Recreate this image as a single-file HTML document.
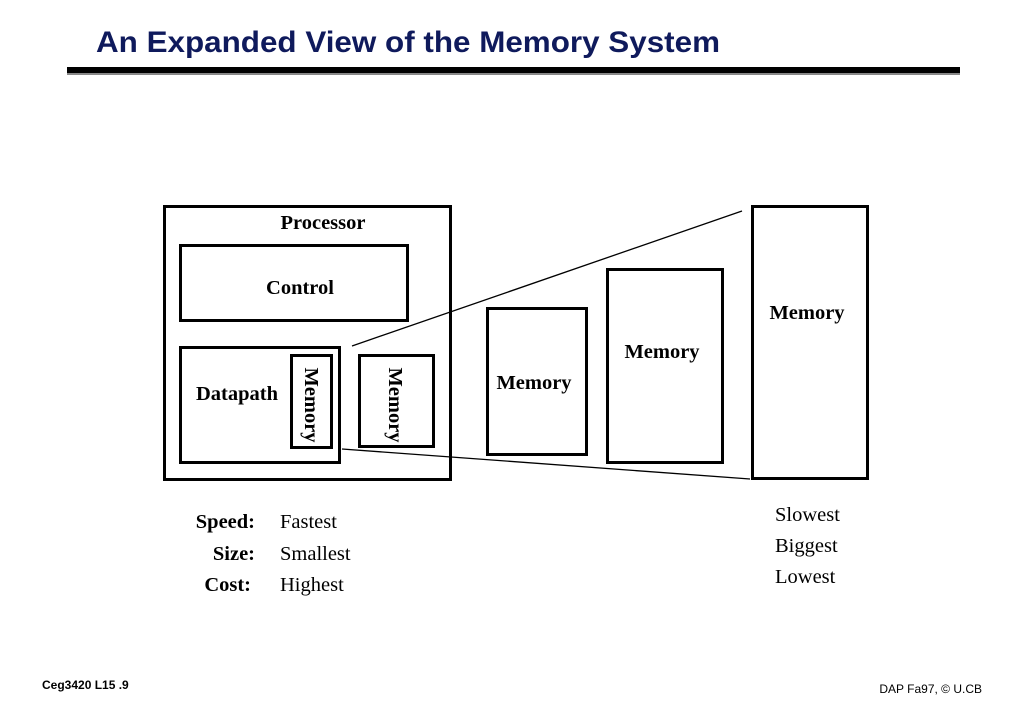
<!DOCTYPE html>
<html><head><meta charset="utf-8"><style>
html,body{margin:0;padding:0;background:#fff;}
svg{display:block;}
.t{font-family:"Liberation Serif",serif;font-size:20.5px;fill:#000;}
.b{font-weight:bold;}
</style></head><body>
<svg width="1024" height="709" viewBox="0 0 1024 709" xmlns="http://www.w3.org/2000/svg">
<text x="96" y="52" font-family="Liberation Sans,sans-serif" font-weight="bold" font-size="30" fill="#0f1a5c" textLength="624" lengthAdjust="spacingAndGlyphs">An Expanded View of the Memory System</text>
<rect x="67" y="67" width="893" height="6" fill="#000"/>
<rect x="67" y="73" width="893" height="2" fill="#888"/>
<g fill="none" stroke="#000" stroke-width="3">
<rect x="164.5" y="206.5" width="286" height="273"/>
<rect x="180.5" y="245.5" width="227" height="75"/>
<rect x="180.5" y="347.5" width="159" height="115"/>
<rect x="291.5" y="355.5" width="40" height="92"/>
<rect x="359.5" y="355.5" width="74" height="91"/>
<rect x="487.5" y="308.5" width="99" height="146"/>
<rect x="607.5" y="269.5" width="115" height="193"/>
<rect x="752.5" y="206.5" width="115" height="272"/>
</g>
<line x1="352" y1="346" x2="742" y2="211" stroke="#000" stroke-width="1.3"/>
<line x1="342" y1="449" x2="750" y2="479" stroke="#000" stroke-width="1.3"/>
<text class="t b" x="323" y="229" text-anchor="middle">Processor</text>
<text class="t b" x="300" y="294" text-anchor="middle">Control</text>
<text class="t b" x="237" y="400" text-anchor="middle">Datapath</text>
<text class="t b" transform="translate(305,405) rotate(90)" text-anchor="middle">Memory</text>
<text class="t b" transform="translate(389,405) rotate(90)" text-anchor="middle">Memory</text>
<text class="t b" x="534" y="389" text-anchor="middle">Memory</text>
<text class="t b" x="662" y="358" text-anchor="middle">Memory</text>
<text class="t b" x="807" y="319" text-anchor="middle">Memory</text>
<text class="t b" x="255" y="528" text-anchor="end">Speed:</text>
<text class="t b" x="255" y="560" text-anchor="end">Size:</text>
<text class="t b" x="251" y="591" text-anchor="end">Cost:</text>
<text class="t" x="280" y="528">Fastest</text>
<text class="t" x="280" y="560">Smallest</text>
<text class="t" x="280" y="591">Highest</text>
<text class="t" x="775" y="521">Slowest</text>
<text class="t" x="775" y="552">Biggest</text>
<text class="t" x="775" y="583">Lowest</text>
<text x="42" y="689" font-family="Liberation Sans,sans-serif" font-weight="bold" font-size="12">Ceg3420 L15 .9</text>
<text x="982" y="693" font-family="Liberation Sans,sans-serif" font-size="12" text-anchor="end">DAP Fa97, © U.CB</text>
</svg>
</body></html>
